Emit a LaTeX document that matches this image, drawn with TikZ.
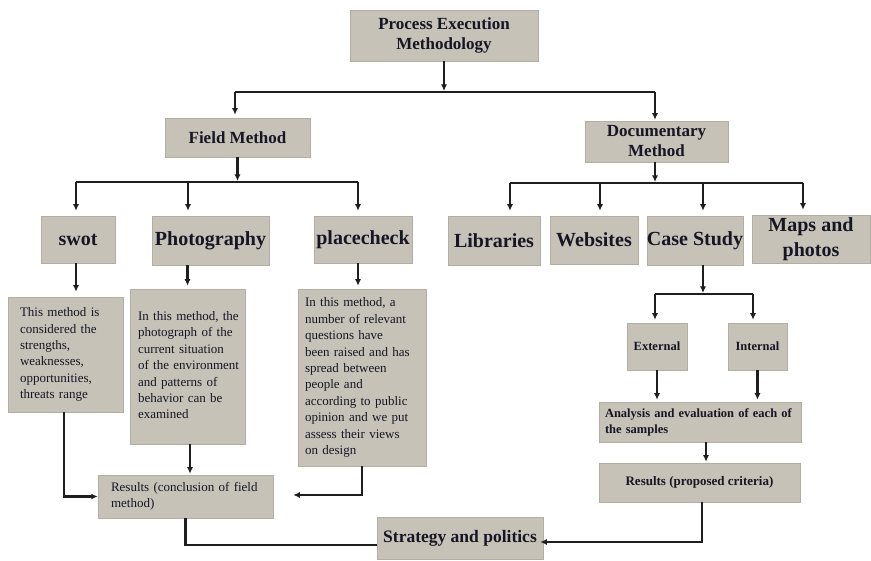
\documentclass[tikz,border=0pt]{standalone}
\usepackage{fontspec}
\setmainfont{Liberation Serif}
\usetikzlibrary{arrows.meta,shadows}
\definecolor{boxfill}{RGB}{198,194,184}
\definecolor{boxedge}{RGB}{178,174,164}
\definecolor{ink}{RGB}{22,22,36}
\definecolor{wire}{RGB}{30,30,30}
% a block of left-aligned lines that never rewraps
\newcommand\leftlines[1]{\begin{tabular}{@{}l@{}}#1\end{tabular}}
\begin{document}
\begin{tikzpicture}[x=1pt,y=-1pt,
  box/.style={fill=boxfill,draw=boxedge,line width=0.5pt,inner sep=0pt,text=ink,
    drop shadow={shadow xshift=1.2pt,shadow yshift=-1.2pt,fill=black,opacity=0.22}},
  headA/.style={box,align=center,font=\fontsize{17}{20}\selectfont\bfseries},
  headB/.style={box,align=center,font=\fontsize{20}{25}\selectfont\bfseries},
  headC/.style={box,align=center,font=\fontsize{12.5}{16}\selectfont\bfseries},
  desc/.style={box,align=left,font=\fontsize{13}{16.4}\selectfont},
  descB/.style={box,align=left,font=\fontsize{12.5}{16}\selectfont\bfseries},
  bus/.style={draw=wire,line width=1.4pt},
  ln/.style={draw=wire,line width=2.2pt},
  arr/.style={ln,-{Latex[length=6.5pt,width=6pt]}}]
\useasboundingbox[fill=white] (0,0) rectangle (871,561);

% top level
\node[headA,minimum width=188,minimum height=51] (title) at (444,35.5) {Process Execution\\Methodology};
\node[headA,minimum width=145,minimum height=39] (field) at (237.5,137.5) {Field Method};
\node[headA,minimum width=143,minimum height=41] (doc) at (656.5,141.5) {Documentary\\Method};

% second level
\node[headB,minimum width=74,minimum height=47] (swot) at (78,239.5) {swot};
\node[headB,minimum width=117,minimum height=49] (photo) at (210.5,240.5) {Photography};
\node[headB,minimum width=98,minimum height=47] (place) at (363,239.5) {placecheck};
\node[headB,minimum width=92,minimum height=49] (lib) at (494,240.5) {Libraries};
\node[headB,minimum width=88,minimum height=48] (web) at (594,240) {Websites};
\node[headB,minimum width=94,minimum height=49] (case) at (695,240.5) {Case Study};
\node[headB,minimum width=118,minimum height=48] (maps) at (811,239) {Maps and\\photos};

% descriptions of the field methods
\node[desc,text width=91,inner xsep=12,minimum height=115] (swotd) at (65.5,354.5)
  {\leftlines{This method is\\considered the\\strengths,\\weaknesses,\\opportunities,\\threats range}};
\node[desc,text width=99,inner xsep=8,minimum height=155] (photod) at (187.5,366.5)
  {\leftlines{In this method, the\\photograph of the\\current situation\\of the environment\\and patterns of\\behavior can be\\examined}};
\node[desc,text width=114,inner xsep=7,minimum height=177] (placed) at (362,377.5)
  {\leftlines{In this method, a\\number of relevant\\questions have\\been raised and has\\spread between\\people and\\according to public\\opinion and we put\\assess their views\\on design}};

% case study branch
\node[headC,minimum width=60,minimum height=47] (ext) at (657,346.5) {External};
\node[headC,minimum width=59,minimum height=47] (int) at (757.5,346.5) {Internal};
\node[descB,text width=190,inner xsep=6,minimum height=40] (anal) at (700,422)
  {\leftlines{Analysis and evaluation of each of\\the samples}};
\node[headC,font=\fontsize{13}{16}\selectfont\bfseries,minimum width=201,minimum height=39] (resp) at (699.5,482.5) {Results (proposed criteria)};

% results and strategy
\node[desc,text width=149,inner xsep=13,minimum height=43] (resc) at (185.5,496.5)
  {\leftlines{Results (conclusion of field\\method)}};
\node[box,font=\fontsize{17.5}{20}\selectfont\bfseries,minimum width=166,minimum height=42] (strat) at (460,538) {Strategy and politics};

% title to the two methods
\coordinate (j0) at (444,92);
\coordinate (j0l) at (235,92);
\coordinate (j0r) at (655,92);
\draw[arr,shorten >=1pt] (title.south) -- (j0);
\draw[bus] (j0l) -- (j0r);
\draw[arr,shorten >=3pt] (j0l) -- (j0l |- field.north);
\draw[arr,shorten >=1pt] (j0r) -- (j0r |- doc.north);

% field method bus
\coordinate (j1) at (237.5,182);
\coordinate (j1a) at (76,182);
\coordinate (j1b) at (188,182);
\coordinate (j1c) at (358,182);
\draw[arr,shorten >=1pt] (field.south) -- (j1);
\draw[bus] (j1a) -- (j1c);
\draw[arr,shorten >=5pt] (j1a) -- (j1a |- swot.north);
\draw[arr,shorten >=5pt] (j1b) -- (j1b |- photo.north);
\draw[arr,shorten >=5pt] (j1c) -- (j1c |- place.north);

% documentary method bus
\coordinate (j2) at (655,183);
\coordinate (j2a) at (510,183);
\coordinate (j2b) at (600,183);
\coordinate (j2c) at (703,183);
\coordinate (j2d) at (803,183);
\draw[arr,shorten >=1pt] (j2 |- doc.south) -- (j2);
\draw[bus] (j2a) -- (j2d);
\draw[arr,shorten >=5pt] (j2a) -- (j2a |- lib.north);
\draw[arr,shorten >=5pt] (j2b) -- (j2b |- web.north);
\draw[arr,shorten >=5pt] (j2c) -- (j2c |- case.north);
\draw[arr,shorten >=5pt] (j2d) -- (j2d |- maps.north);

% case study bus
\coordinate (j3) at (703,294);
\coordinate (j3a) at (655,294);
\coordinate (j3b) at (753,294);
\draw[arr,shorten >=1pt] (j3 |- case.south) -- (j3);
\draw[bus] (j3a) -- (j3b);
\draw[arr,shorten >=3pt] (j3a) -- (j3a |- ext.north);
\draw[arr,shorten >=3pt] (j3b) -- (j3b |- int.north);
\draw[arr,shorten >=2pt] (ext.south) -- (ext.south |- anal.north);
\draw[arr,shorten >=2pt] (int.south) -- (int.south |- anal.north);
\draw[arr,shorten >=1pt] ([xshift=6pt]anal.south) -- ([xshift=6pt]anal.south |- resp.north);

% field methods to their descriptions
\draw[arr,shorten >=5pt] ([xshift=-2pt]swot.south) -- ([xshift=-2pt]swot.south |- swotd.north);
\draw[arr,shorten >=3pt] (photod.north |- photo.south) -- (photod.north);
\draw[arr,shorten >=3pt] ([xshift=-4pt]placed.north |- place.south) -- ([xshift=-4pt]placed.north);

% descriptions to the field results
\draw[arr] ([xshift=-1.5pt]swotd.south) |- (resc.west);
\draw[arr,shorten >=1pt] ([xshift=2.5pt]photod.south) -- ([xshift=2.5pt]photod.south |- resc.north);
\draw[arr,shorten >=20pt] (placed.south) |- ([yshift=1.5pt]resc.east);

% results to strategy
\draw[ln] (resc.south) |- ([yshift=-7pt]strat.west);
\draw[arr,shorten >=-3pt] ([xshift=2.5pt]resp.south) |- ([yshift=-4pt]strat.east);
\end{tikzpicture}
\end{document}
